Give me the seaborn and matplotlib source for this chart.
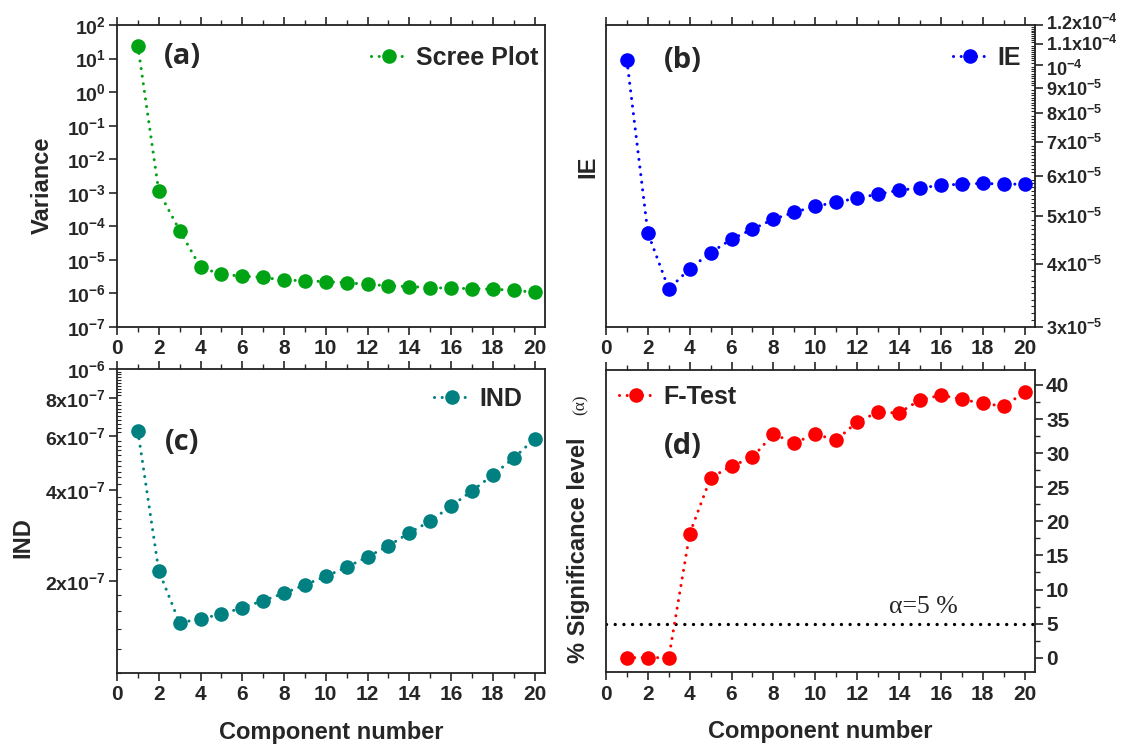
import numpy as np
import pandas as pd
import matplotlib
matplotlib.use("Agg")
import matplotlib.pyplot as plt
import matplotlib.transforms as mtransforms
import seaborn as sns
from matplotlib.ticker import FixedLocator, FixedFormatter, MultipleLocator, NullFormatter, LogLocator

# ---------------- data ----------------
components = list(range(1, 21))
scree_variance = [2.4e1, 1.1e-3, 7.5e-5, 6.0e-6, 3.7e-6, 3.3e-6, 3.0e-6, 2.5e-6, 2.4e-6, 2.25e-6,
                  2.1e-6, 1.85e-6, 1.7e-6, 1.6e-6, 1.5e-6, 1.42e-6, 1.4e-6, 1.33e-6, 1.25e-6, 1.08e-6]
ie_values = [1.02e-4, 4.62e-5, 3.57e-5, 3.92e-5, 4.22e-5, 4.49e-5, 4.70e-5, 4.92e-5, 5.08e-5, 5.22e-5,
             5.32e-5, 5.42e-5, 5.52e-5, 5.62e-5, 5.68e-5, 5.75e-5, 5.78e-5, 5.80e-5, 5.78e-5, 5.78e-5]
ind_values = [6.25e-7, 2.17e-7, 1.46e-7, 1.51e-7, 1.56e-7, 1.64e-7, 1.73e-7, 1.83e-7, 1.95e-7, 2.08e-7,
              2.23e-7, 2.41e-7, 2.62e-7, 2.89e-7, 3.16e-7, 3.54e-7, 3.97e-7, 4.48e-7, 5.09e-7, 5.89e-7]
ftest_values = [0.0, 0.0, 0.0, 18.2, 26.4, 28.1, 29.4, 32.8, 31.5, 32.8,
                31.9, 34.6, 36.0, 35.9, 37.8, 38.5, 37.9, 37.3, 36.9, 38.9]
alpha_level = 5

x_ticks = [0, 2, 4, 6, 8, 10, 12, 14, 16, 18, 20]
a_ticks = [1e2, 1e1, 1e0, 1e-1, 1e-2, 1e-3, 1e-4, 1e-5, 1e-6, 1e-7]
a_labels = [r"$\mathbf{10^{2}}$", r"$\mathbf{10^{1}}$", r"$\mathbf{10^{0}}$", r"$\mathbf{10^{-1}}$",
            r"$\mathbf{10^{-2}}$", r"$\mathbf{10^{-3}}$", r"$\mathbf{10^{-4}}$", r"$\mathbf{10^{-5}}$",
            r"$\mathbf{10^{-6}}$", r"$\mathbf{10^{-7}}$"]
b_ticks = [3e-5, 4e-5, 5e-5, 6e-5, 7e-5, 8e-5, 9e-5, 1e-4, 1.1e-4, 1.2e-4]
b_labels = [r"$\mathbf{3x10^{-5}}$", r"$\mathbf{4x10^{-5}}$", r"$\mathbf{5x10^{-5}}$", r"$\mathbf{6x10^{-5}}$",
            r"$\mathbf{7x10^{-5}}$", r"$\mathbf{8x10^{-5}}$", r"$\mathbf{9x10^{-5}}$", r"$\mathbf{10^{-4}}$",
            r"$\mathbf{1.1x10^{-4}}$", r"$\mathbf{1.2x10^{-4}}$"]
c_ticks = [2e-7, 4e-7, 6e-7, 8e-7, 1e-6]
c_labels = [r"$\mathbf{2x10^{-7}}$", r"$\mathbf{4x10^{-7}}$", r"$\mathbf{6x10^{-7}}$",
            r"$\mathbf{8x10^{-7}}$", r"$\mathbf{10^{-6}}$"]
d_ticks = [0, 5, 10, 15, 20, 25, 30, 35, 40]

# ---------------- style ----------------
sns.set_theme(style="ticks")
plt.rcParams["font.family"] = ["Liberation Sans", "DejaVu Sans"]
plt.rcParams["font.weight"] = "bold"
plt.rcParams["mathtext.fontset"] = "custom"
plt.rcParams["mathtext.rm"] = "Liberation Sans"
plt.rcParams["mathtext.bf"] = "Liberation Sans:bold"
plt.rcParams["mathtext.it"] = "Liberation Sans:italic"
plt.rcParams["axes.linewidth"] = 1.3
plt.rcParams["axes.edgecolor"] = "#222222"

W, H = 1123, 745
fig = plt.figure(figsize=(W / 100, H / 100), dpi=100)
fig.patch.set_facecolor("white")


def ax_px(l, t, r, b):
    return fig.add_axes([l / W, 1 - b / H, (r - l) / W, (b - t) / H])


ax_a = ax_px(117, 25, 545, 327)
ax_b = ax_px(606, 25, 1035, 327)
ax_c = ax_px(117, 369, 545, 673)
ax_d = ax_px(606, 370, 1035, 672)

TICK_FS = 15
LOG_FS = 14
LABEL_FS = 17
dot_style = (0, (0.01, 2.5))


def draw(ax, y, color, label):
    sns.lineplot(x=components, y=y, ax=ax, color=color, marker="o", markersize=10.5,
                 markeredgewidth=0, linestyle=dot_style, linewidth=2.2,
                 dash_capstyle="round", label=label)


def common_x(ax):
    ax.set_xlim(0, 20.5)
    ax.xaxis.set_major_locator(FixedLocator(x_ticks))
    ax.xaxis.set_minor_locator(MultipleLocator(1))
    ax.tick_params(axis="x", which="both", top=True, bottom=True, direction="out",
                   labelsize=TICK_FS, pad=3)
    ax.tick_params(axis="x", which="major", length=6, width=1.2)
    ax.tick_params(axis="x", which="minor", length=3.5, width=1.0)
    for t in ax.get_xticklabels():
        t.set_fontweight("bold")
    ax.set_xlabel("")
    for s in ax.spines.values():
        s.set_visible(True)


# ---- (a) ----
draw(ax_a, scree_variance, "#00a313", "Scree Plot")
ax_a.set_yscale("log")
ax_a.set_ylim(1e-7, 1e2)
ax_a.yaxis.set_major_locator(FixedLocator(a_ticks))
ax_a.yaxis.set_major_formatter(FixedFormatter(a_labels))
ax_a.yaxis.set_minor_locator(LogLocator(base=10, subs=np.arange(2, 10)))
ax_a.yaxis.set_minor_formatter(NullFormatter())
ax_a.tick_params(axis="y", which="major", direction="out", length=6, width=1.2, labelsize=LOG_FS, pad=2)
ax_a.tick_params(axis="y", which="minor", direction="in", length=3, width=0.8)
common_x(ax_a)
ax_a.set_ylabel("Variance", fontsize=LABEL_FS, fontweight="bold")
ax_a.yaxis.set_label_coords(-0.147, 0.47)

# ---- (b) ----
draw(ax_b, ie_values, "#0000ff", "IE")
ax_b.set_yscale("log")
ax_b.set_ylim(3e-5, 1.2e-4)
ax_b.yaxis.tick_right()
ax_b.yaxis.set_major_locator(FixedLocator(b_ticks))
ax_b.yaxis.set_major_formatter(FixedFormatter(b_labels))
ax_b.yaxis.set_minor_locator(FixedLocator(list(np.arange(30, 121, 1) * 1e-6)))
ax_b.yaxis.set_minor_formatter(NullFormatter())
ax_b.tick_params(axis="y", which="major", direction="out", length=6, width=1.2, labelsize=13, pad=2,
                 left=False, right=True)
ax_b.tick_params(axis="y", which="minor", direction="in", length=3, width=0.8, left=False, right=True)
common_x(ax_b)
ax_b.set_ylabel("IE", fontsize=LABEL_FS, fontweight="bold")
ax_b.yaxis.set_label_position("left")
ax_b.yaxis.set_label_coords(-0.016, 0.53)

# ---- (c) ----
draw(ax_c, ind_values, "#008080", "IND")
ax_c.set_yscale("log")
ax_c.set_ylim(1e-7, 1e-6)
ax_c.yaxis.set_major_locator(FixedLocator(c_ticks))
ax_c.yaxis.set_major_formatter(FixedFormatter(c_labels))
ax_c.yaxis.set_minor_locator(FixedLocator(list(np.arange(100, 1001, 20) * 1e-9)))
ax_c.yaxis.set_minor_formatter(NullFormatter())
ax_c.tick_params(axis="y", which="major", direction="out", length=6, width=1.2, labelsize=LOG_FS, pad=2)
ax_c.tick_params(axis="y", which="minor", direction="in", length=3, width=0.8)
common_x(ax_c)
ax_c.set_ylabel("IND", fontsize=LABEL_FS, fontweight="bold")
ax_c.yaxis.set_label_coords(-0.194, 0.444)
ax_c.set_xlabel("Component number", fontsize=LABEL_FS, fontweight="bold")
ax_c.xaxis.set_label_coords(0.5, -0.158)

# ---- (d) ----
draw(ax_d, ftest_values, "#ff0000", "F-Test")
ax_d.axhline(alpha_level, color="black", linestyle=(0, (0.01, 2.6)), linewidth=2.4,
             dash_capstyle="round", zorder=1)
ax_d.set_ylim(-2.1, 42.2)
ax_d.yaxis.tick_right()
ax_d.yaxis.set_major_locator(FixedLocator(d_ticks))
ax_d.yaxis.set_minor_locator(MultipleLocator(2.5))
ax_d.tick_params(axis="y", which="major", direction="out", length=6, width=1.2, labelsize=TICK_FS, pad=2,
                 left=False, right=True)
ax_d.tick_params(axis="y", which="minor", direction="out", length=3.5, width=1.0, left=False, right=True)
common_x(ax_d)
ax_d.set_ylabel("")
ax_d.set_xlabel("Component number", fontsize=LABEL_FS, fontweight="bold")
ax_d.xaxis.set_label_coords(0.5, -0.158)
ax_d.text(15.15, 7.5, "α=5 %", fontsize=18.5, family=["Liberation Serif", "DejaVu Serif"],
          fontweight="normal", ha="center", va="center")

for ax in (ax_a, ax_b, ax_c, ax_d):
    for t in ax.get_yticklabels():
        t.set_fontweight("bold")

# y label of (d) with small serif (α)
fig.text(578 / W, 1 - 550 / H, "% Significance level", rotation=90, ha="center", va="center",
         fontsize=LABEL_FS, fontweight="bold")
fig.text(581 / W, 1 - 405 / H, "(α)", rotation=90, ha="center", va="center",
         fontsize=12.5, fontweight="normal", family=["Liberation Serif", "DejaVu Serif"])

# legends
leg_kw = dict(frameon=False, prop={"weight": "bold", "size": 18}, handlelength=1.4,
              handletextpad=0.4, borderpad=0, borderaxespad=0, numpoints=1)
ax_a.legend(loc="upper right", bbox_to_anchor=(0.985, 0.93), **leg_kw)
ax_b.legend(loc="upper right", bbox_to_anchor=(0.968, 0.93), **leg_kw)
ax_c.legend(loc="upper right", bbox_to_anchor=(0.946, 0.94), **leg_kw)
ax_d.legend(loc="upper left", bbox_to_anchor=(0.030, 0.95), **leg_kw)

# panel letters
panel_font = ["Open Sans", "DejaVu Sans"]
for (px, py, s) in [(182, 57, "(a)"), (683, 61, "(b)"), (182, 443, "(c)"), (683, 446, "(d)")]:
    fig.text(px / W, 1 - py / H, s, ha="center", va="center", fontsize=21, fontweight="bold",
             family=panel_font)

# nudge the two crowded top labels of (b) apart, as in the reference
fig.canvas.draw()
for tick in ax_b.yaxis.get_major_ticks():
    lbl = tick.label2
    if "1.2x" in lbl.get_text():
        lbl.set_transform(lbl.get_transform() + mtransforms.ScaledTranslation(0, 2.5 / 72, fig.dpi_scale_trans))
    elif "1.1x" in lbl.get_text():
        lbl.set_transform(lbl.get_transform() + mtransforms.ScaledTranslation(0, 0.5 / 72, fig.dpi_scale_trans))
    elif lbl.get_text() == r"$\mathbf{10^{-4}}$":
        lbl.set_transform(lbl.get_transform() + mtransforms.ScaledTranslation(0, -2 / 72, fig.dpi_scale_trans))

fig.savefig("out.png", dpi=100, facecolor="white")
